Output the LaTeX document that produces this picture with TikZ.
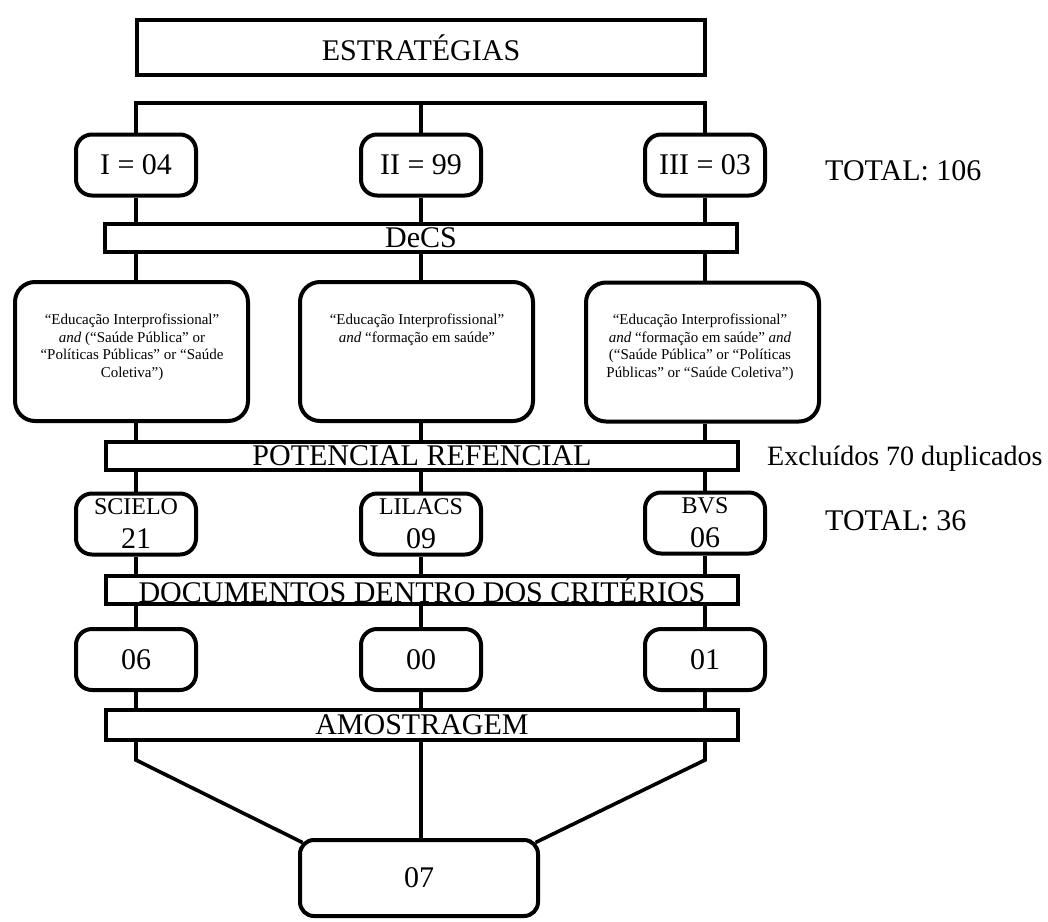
\documentclass[tikz,border=0pt]{standalone}
\usepackage{fontspec}
\setmainfont{Liberation Serif}
\usetikzlibrary{positioning,calc}
\tikzset{
  frame/.style={
    draw,
    line width=4pt,
    inner sep=0pt,
    font=\fontsize{30}{34}\selectfont
  },
  headbox/.style={frame,minimum width=568pt,minimum height=55pt},
  bar/.style={frame,minimum width=632pt,minimum height=28pt},
  count/.style={frame,rounded corners=16pt,minimum width=120pt,minimum height=61pt,align=center},
  query/.style={draw,line width=4pt,rounded corners=20pt,minimum width=233pt,minimum height=139pt},
  qtext/.style={anchor=north,inner sep=0pt,align=center,font=\fontsize{15}{17.5}\selectfont},
  side/.style={anchor=base west,inner sep=0pt,font=\fontsize{30}{34}\selectfont},
  link/.style={line width=3.6pt}
}

\begin{document}
\begin{tikzpicture}[x=1pt,y=-1pt]
\useasboundingbox (0,0) rectangle (1048,921);

% Top: strategies and their counts
\node[headbox] (strat) at (421,47.5) {ESTRATÉGIAS};
\node[count] (s1) at (136,165) {I = 04};
\node[count] (s2) at (421,165) {II = 99};
\node[count] (s3) at (705,165) {III = 03};
\node[side] (tot1) at (825,180) {TOTAL: 106};

\coordinate (fork) at (421,103);
\draw[link] (s1.north) |- (fork) -| (s3.north);
\draw[link] (fork) -- (s2.north);

% DeCS descriptors
\node[bar] (decs) at (421,237.5) {DeCS};
\node[query] (q1) at (131.5,351.5) {};
\node[query] (q2) at (416.5,351.5) {};
\node[query] (q3) at (702.5,352) {};
\node[qtext] (q1t) at (132,314) {“Educação Interprofissional”\\\textit{and} (“Saúde Pública” or\\“Políticas Públicas” or “Saúde\\Coletiva”)};
\node[qtext] (q2t) at (417,314) {“Educação Interprofissional”\\\textit{and} “formação em saúde”};
\node[qtext] (q3t) at (700,314) {“Educação Interprofissional”\\\textit{and} “formação em saúde” \textit{and}\\(“Saúde Pública” or “Políticas\\Públicas” or “Saúde Coletiva”)};

\draw[link] (s1.south) -- (s1 |- decs.north);
\draw[link] (s2.south) -- (s2 |- decs.north);
\draw[link] (s3.south) -- (s3 |- decs.north);
\draw[link] (s1 |- decs.south) -- (s1 |- q1.north);
\draw[link] (s2 |- decs.south) -- (s2 |- q2.north);
\draw[link] (s3 |- decs.south) -- (s3 |- q3.north);

% Databases
\node[bar] (pot) at (422,456) {POTENCIAL REFENCIAL};
\node[side,font=\fontsize{28}{32}\selectfont] (excl) at (767,465) {Excluídos 70 duplicados};
\node[count] (p1) at (136,524) {{\fontsize{24}{34}\selectfont SCIELO}\\21};
\node[count] (p2) at (421,524) {{\fontsize{24}{34}\selectfont LILACS}\\09};
\node[count] (p3) at (705,523) {{\fontsize{24}{34}\selectfont BVS}\\06};
\node[side] (tot2) at (825,530) {TOTAL: 36};

\draw[link] (s1 |- q1.south) -- (s1 |- pot.north);
\draw[link] (s2 |- q2.south) -- (s2 |- pot.north);
\draw[link] (s3 |- q3.south) -- (s3 |- pot.north);
\draw[link] (s1 |- pot.south) -- (p1.north);
\draw[link] (s2 |- pot.south) -- (p2.north);
\draw[link] (s3 |- pot.south) -- (p3.north);

% Selection
\node[bar] (crit) at (422,590) {DOCUMENTOS DENTRO DOS CRITÉRIOS};
\node[count] (r1) at (136,659.5) {06};
\node[count] (r2) at (421,659.5) {00};
\node[count] (r3) at (705,659.5) {01};
\node[bar,minimum height=30pt] (amos) at (422,725) {AMOSTRAGEM};
\node[frame,rounded corners=14pt,minimum width=238pt,minimum height=76pt] (fin) at (419,878) {07};

\draw[link] (p1.south) -- (p1 |- crit.north);
\draw[link] (p2.south) -- (p2 |- crit.north);
\draw[link] (p3.south) -- (p3 |- crit.north);
\draw[link] (r1 |- crit.south) -- (r1.north);
\draw[link] (r2 |- crit.south) -- (r2.north);
\draw[link] (r3 |- crit.south) -- (r3.north);
\draw[link] (r1.south) -- (r1 |- amos.north);
\draw[link] (r2.south) -- (r2 |- amos.north);
\draw[link] (r3.south) -- (r3 |- amos.north);

% Merge into the final sample
\coordinate (bendL) at (136,760);
\coordinate (bendR) at (705,760);
\draw[link] (r1 |- amos.south) -- (bendL) -- ($(fin.north west)+(4.5,4.5)$);
\draw[link] (r3 |- amos.south) -- (bendR) -- ($(fin.north east)+(-4.5,4.5)$);
\draw[link] (r2 |- amos.south) -- (r2 |- fin.north);

\end{tikzpicture}
\end{document}
